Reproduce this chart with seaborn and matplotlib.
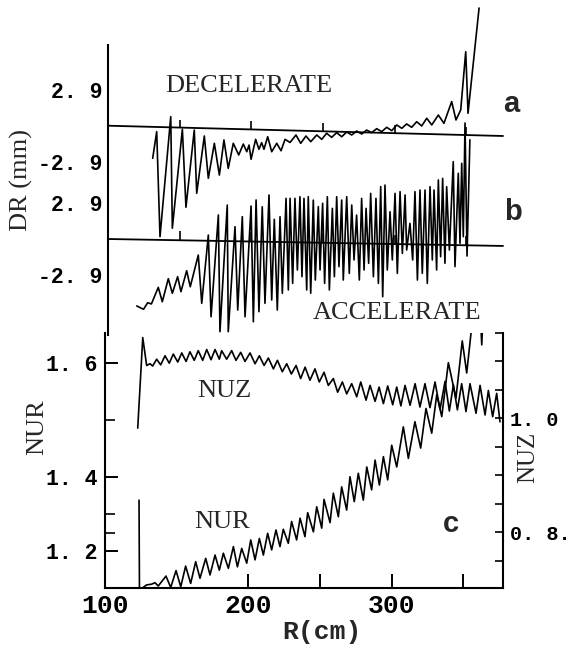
import numpy as np
import pandas as pd
import matplotlib
matplotlib.use("Agg")
import matplotlib.pyplot as plt
import seaborn as sns

# ---------------- data ----------------
# panel a : DECELERATE, DR (mm) vs R (cm)
DEC_R = [131.3, 134.1, 136.4, 143.9, 145.0, 152.0, 154.5, 160.3, 162.0, 167.3,
         170.1, 174.3, 177.8, 181.0, 184.0, 187.5, 191.3, 194.5, 196.9, 198.5,
         199.9, 203.1, 205.4, 207.3, 208.9, 211.5, 214.3, 217.8, 220.8, 223.6,
         227.1, 231.2, 234.5, 238.2, 241.5, 245.7, 249.2, 252.6, 256.1, 259.6,
         263.1, 266.6, 270.1, 273.6, 277.1, 280.5, 284.0, 287.5, 291.0, 294.5,
         298.0, 301.5, 305.0, 308.4, 311.9, 315.4, 318.9, 322.4, 325.9, 330.5,
         334.4, 339.8, 342.8, 346.1, 349.6, 351.2, 358.9]
DEC_DR = [-2.63, -0.48, -8.95, 0.73, -8.27, -0.29, -6.58, -0.35, -5.45, -0.83,
          -4.24, -1.42, -3.98, -1.15, -3.44, -1.42, -2.36, -1.48, -2.10, -1.56,
          -2.71, -1.10, -1.90, -1.37, -1.90, -0.89, -2.10, -1.42, -2.02, -1.10,
          -1.35, -0.75, -1.42, -0.83, -1.29, -0.75, -1.10, -0.61, -0.94, -0.56,
          -0.89, -0.51, -0.75, -0.43, -0.67, -0.35, -0.56, -0.24, -0.48, -0.13,
          -0.40, 0.06, -0.21, 0.14, -0.13, 0.32, -0.02, 0.60, 0.06, 0.86,
          0.19, 1.94, 0.46, 1.27, 5.97, 1.00, 9.49]

# panel b : ACCELERATE, DR (mm) vs R (cm)
ACC_R = [120.2, 124.9, 127.8, 130.4, 135.2, 138.0, 142.2, 145.0, 148.7, 151.0,
         155.0, 157.5, 163.1, 165.5, 170.1, 172.0, 177.1, 178.2, 183.3, 184.0,
         188.7, 190.6, 193.8, 195.7, 199.9, 201.5, 203.4, 205.4, 207.7, 209.6,
         212.4, 214.3, 216.1, 218.2, 220.1, 221.7, 224.3, 225.9,
         227.1, 228.9, 230.5, 232.2, 234.0, 235.4, 236.8, 238.7, 239.8, 241.5,
         243.3, 244.7, 246.8, 248.0, 249.8, 251.2, 253.1, 254.5, 256.6, 258.0,
         259.6, 261.2, 263.1, 264.2, 266.6, 268.4, 270.1, 271.7, 273.5, 275.4,
         277.0, 278.7, 280.1, 281.9, 283.3, 285.2, 287.0, 288.7, 290.3, 291.7,
         293.3, 294.9, 296.8, 298.4, 300.3, 301.9, 303.8, 305.4, 307.3, 308.4,
         310.7, 312.6, 314.2, 315.9, 317.7, 319.3, 321.2, 322.8, 324.7, 326.3,
         327.5, 329.3, 330.5, 332.1, 333.5, 335.1, 336.3, 338.2, 340.9, 342.1,
         344.4, 345.6, 346.8, 347.9, 349.1, 350.5, 352.5]
ACC_DR = [-5.40, -5.67, -5.14, -5.24, -3.90, -5.06, -3.20, -4.38, -3.04, -4.25,
          -2.56, -3.85, -1.29, -5.19, 0.32, -6.27, 1.94, -7.48, 2.74, -7.48,
          0.99, -5.73, 1.80, -6.27, 2.66, -6.67, 3.15, -5.86, 2.60, -5.19,
          3.55, -4.92, 1.59, -5.73, 1.80, -4.38, 3.28, -4.11,
          3.28, -3.58, 3.28, -2.50, 3.41, -3.04, 3.28, -4.11, 3.41, -4.38,
          3.14, -3.31, 2.61, -2.50, 2.88, -3.58, 3.41, -4.11, 2.47, -3.04,
          3.41, -2.23, 3.14, -3.31, 3.41, -2.77, 2.74, -1.69, 1.93, -3.31,
          3.28, -2.50, 2.47, -1.96, 3.68, -3.04, 3.28, -3.58, 4.22, -4.65,
          4.35, -2.50, 2.20, -1.69, 3.68, -2.77, 3.82, -1.16, 3.55, -0.89,
          1.26, -1.69, 3.82, -3.31, 3.95, -2.77, 3.95, -3.58, 4.22, -1.69,
          3.95, -2.50, 4.76, -1.43, 4.89, -1.96, 4.22, -0.89, 6.24, -2.23,
          5.30, -0.35, 6.10, 0.19, 9.35, -1.37, 8.00]

# zero reference lines of panels a and b
BASE_R = [100.0, 375.6]
BASE_A = [0.0, -0.83]
BASE_B = [0.0, -0.56]
MARK_R = [150, 200, 250, 300, 350]

# panel c : NUZ (right axis) and NUR (left axis) vs R (cm)
NUZ_R = [122.9, 126.4, 129.1, 131.5, 133.3,
         136.1, 138.9, 141.9, 144.9, 147.7, 150.8, 153.6, 156.6, 159.3, 162.3,
         165.1, 168.2, 171.0, 174.0, 176.8, 179.8,
         181.4, 184.9, 188.4, 191.4, 194.7, 197.7, 201.2, 204.7, 207.7, 211.0,
         214.0, 217.5, 220.3, 223.7, 226.8, 230.0, 233.3, 236.5, 239.6, 243.0,
         246.5, 249.5, 252.8, 255.8, 259.3, 262.3, 265.6, 268.6, 272.1, 275.6,
         278.4, 282.1, 284.9, 288.4, 291.2, 294.2, 297.2, 300.7, 303.5, 306.4,
         309.3, 312.8, 316.3, 319.7, 323.2, 326.7, 330.2, 333.7, 337.2, 340.2,
         343.0, 345.8, 348.8, 351.8, 354.6, 358.8, 361.6, 365.1, 367.4, 370.4,
         373.2, 375.5]
NUZ_V = [0.983, 1.142, 1.093, 1.096, 1.092,
         1.104, 1.094, 1.110, 1.097, 1.113, 1.099, 1.115, 1.100, 1.117, 1.102,
         1.119, 1.102, 1.121, 1.103, 1.121, 1.104,
         1.119, 1.104, 1.119, 1.102, 1.116, 1.100, 1.115, 1.096, 1.110, 1.093,
         1.106, 1.087, 1.102, 1.082, 1.096, 1.078, 1.093, 1.070, 1.090, 1.067,
         1.087, 1.064, 1.081, 1.058, 1.070, 1.046, 1.064, 1.043, 1.061, 1.038,
         1.064, 1.032, 1.058, 1.030, 1.055, 1.026, 1.057, 1.024, 1.055, 1.022,
         1.058, 1.023, 1.061, 1.020, 1.061, 1.019, 1.064, 1.016, 1.065, 1.013,
         1.059, 1.015, 1.061, 1.012, 1.061, 1.009, 1.058, 1.006, 1.049, 1.003,
         1.044, 0.994]

NUR_R = [123.8, 124.1, 129.1, 132.6, 134.9, 137.2, 142.6, 145.9, 149.6, 152.9,
         156.3, 159.8, 163.3, 166.3, 170.3, 173.3, 176.8, 179.8,
         182.6, 186.1, 189.6, 192.4, 195.4, 198.9, 201.7, 204.7, 207.7, 210.5,
         213.5, 216.3, 219.3, 222.1, 224.4, 227.9, 230.2, 233.7, 236.1, 239.5,
         241.4, 245.4, 247.7, 251.2, 252.8, 257.0, 259.3, 262.8, 265.1, 268.6,
         270.9, 273.9, 276.7, 280.2, 282.6, 286.0, 288.4, 291.4, 294.2, 297.2,
         300.0, 303.5, 308.1, 311.6, 316.2, 320.2, 323.9, 327.9, 331.4, 334.9,
         339.5, 344.8, 349.2, 352.3, 355.8, 361.5, 362.8, 363.9]
NUR_V = [1.338, 1.094, 1.108, 1.110, 1.114, 1.105, 1.132, 1.101, 1.147, 1.103,
         1.159, 1.112, 1.171, 1.126, 1.180, 1.135, 1.189, 1.148,
         1.194, 1.153, 1.212, 1.157, 1.207, 1.167, 1.230, 1.176, 1.234, 1.189,
         1.248, 1.203, 1.257, 1.212, 1.259, 1.221, 1.280, 1.230, 1.289, 1.239,
         1.304, 1.252, 1.320, 1.262, 1.340, 1.277, 1.357, 1.293, 1.374, 1.311,
         1.401, 1.334, 1.407, 1.338, 1.418, 1.366, 1.430, 1.379, 1.436, 1.393,
         1.456, 1.418, 1.488, 1.433, 1.497, 1.451, 1.520, 1.477, 1.544, 1.506,
         1.600, 1.538, 1.638, 1.582, 1.663, 1.700, 1.631, 1.700]

DR_TICKS = [2.9, -2.9]
DR_TICK_LABELS = ["2. 9", "-2. 9"]
NUR_TICKS = [1.2, 1.4, 1.6]
NUR_TICK_LABELS = ["1. 2", "1. 4", "1. 6"]
NUZ_TICKS = [0.75, 0.80, 0.85, 0.90, 0.95, 1.00, 1.05, 1.10, 1.15]
NUZ_TICK_LABELS = ["", "0. 8.", "", "", "", "1. 0", "", "", ""]
R_TICKS = [100, 200, 250, 300, 350]
R_TICK_LABELS = ["100", "200", "", "300", ""]

# ---------------- style / layout ----------------
sns.set_style("white")
plt.rcParams["font.family"] = ["Liberation Serif", "DejaVu Serif"]
plt.rcParams["axes.edgecolor"] = "black"

W, H = 572, 646
fig = plt.figure(figsize=(W / 100, H / 100), dpi=100)
fig.patch.set_facecolor("white")


def fx(px):
    return px / W


def fy(py):
    return 1 - py / H


MONO = dict(fontfamily="Liberation Mono", fontweight="bold")
LW = 1.2
OFFSET_B = 9.137   # vertical offset (mm) of trace b below trace a

# bottom panel geometry (pixels)
BL, BR, BT, BB = 104.9, 502.7, 333.0, 588.3
TL = 107.8
axc = fig.add_axes([fx(BL), fy(BB), (BR - BL) / W, (BB - BT) / H])
axz = axc.twinx()
axt = fig.add_axes([fx(TL), fy(335), (BR - BL) / W, 335 / H])
for a in (axc, axz, axt):
    a.set_facecolor("none")

# ---------------- top panel: a and b ----------------
dfa = pd.DataFrame({"R": DEC_R, "DR": DEC_DR})
dfb = pd.DataFrame({"R": ACC_R, "DR": np.array(ACC_DR) - OFFSET_B})
sns.lineplot(data=dfa, x="R", y="DR", ax=axt, color="black", lw=LW,
             sort=False, estimator=None)
sns.lineplot(data=dfb, x="R", y="DR", ax=axt, color="black", lw=LW,
             sort=False, estimator=None)
sns.lineplot(x=BASE_R, y=BASE_A, ax=axt, color="black", lw=1.3,
             sort=False, estimator=None)
sns.lineplot(x=BASE_R, y=np.array(BASE_B) - OFFSET_B, ax=axt, color="black",
             lw=1.3, sort=False, estimator=None)
ya = np.interp(MARK_R, BASE_R, BASE_A)
axt.vlines(MARK_R, ya, ya + 0.65, color="black", lw=1.2)
yb = np.interp(MARK_R, BASE_R, BASE_B) - OFFSET_B
axt.vlines(MARK_R, yb, yb + 0.75, color="black", lw=1.2)

axt.set_xlim(100, 377.4)
axt.set_ylim(-16.879, 10.137)
axt.set_xticks([])
axt.set_xlabel("")
axt.set_ylabel("")
ticks_t = DR_TICKS + [v - OFFSET_B for v in DR_TICKS]
axt.set_yticks(ticks_t, DR_TICK_LABELS + DR_TICK_LABELS, fontsize=15.5, **MONO)
axt.tick_params(axis="y", direction="in", length=7, width=1.4, pad=4,
                colors="black")
for s in ("top", "right", "bottom"):
    axt.spines[s].set_visible(False)
axt.spines["left"].set_linewidth(1.5)
axt.spines["left"].set_bounds(-16.879, 6.51)

# ---------------- bottom panel: c ----------------
dfr = pd.DataFrame({"R": NUR_R, "NUR": NUR_V})
dfz = pd.DataFrame({"R": NUZ_R, "NUZ": NUZ_V})
sns.lineplot(data=dfr, x="R", y="NUR", ax=axc, color="black", lw=LW,
             sort=False, estimator=None)
sns.lineplot(data=dfz, x="R", y="NUZ", ax=axz, color="black", lw=LW,
             sort=False, estimator=None)

# the printed NUR axis is not uniform: 1.2-1.4 spans less than 1.4-1.6
NUR_NODES = [1.0, 1.2, 1.4, 1.6, 1.8]
NUR_SPAN = [-73.7, 0.0, 73.7, 188.3, 302.9]


def nur_fwd(v):
    return np.interp(v, NUR_NODES, NUR_SPAN)


def nur_inv(d):
    return np.interp(d, NUR_SPAN, NUR_NODES)


axc.set_yscale("function", functions=(nur_fwd, nur_inv))
axc.set_xlim(100, 377.4)
axc.set_ylim(1.0988, 1.6518)
axc.set_yticks(NUR_TICKS, NUR_TICK_LABELS, fontsize=15.5, **MONO)
axc.set_yticks([1.25, 1.3, 1.5], minor=True)
axc.tick_params(axis="y", which="major", direction="in", length=9, width=1.4,
                pad=5, colors="black", left=True)
axc.tick_params(axis="y", which="minor", direction="in", length=7, width=1.2,
                left=True, colors="black")
axc.set_xticks(R_TICKS, R_TICK_LABELS, fontsize=19, **MONO)
axc.tick_params(axis="x", direction="in", length=10, width=1.4, pad=4,
                colors="black", bottom=True)
axc.set_xlabel("")
axc.set_ylabel("")
axc.spines["top"].set_visible(False)
axc.spines["right"].set_visible(False)
axc.spines["left"].set_linewidth(1.5)
axc.spines["bottom"].set_linewidth(1.5)

axz.set_ylim(0.7016, 1.1456)
axz.set_yticks(NUZ_TICKS, NUZ_TICK_LABELS, fontsize=14.5, **MONO)
axz.tick_params(axis="y", direction="in", length=6, width=1.2, pad=5,
                colors="black", right=True)
axz.set_ylabel("")
for s in ("top", "left", "bottom"):
    axz.spines[s].set_visible(False)
axz.spines["right"].set_linewidth(1.5)

# ---------------- texts ----------------
SERIF = dict(fontfamily="Liberation Serif")
fig.text(fx(165), fy(91.7), "DECELERATE", ha="left", va="baseline",
         fontsize=19, **SERIF)
fig.text(fx(313), fy(319), "ACCELERATE", ha="left", va="baseline",
         fontsize=19, **SERIF)
fig.text(fx(197), fy(396.7), "NUZ", ha="left", va="baseline", fontsize=19,
         **SERIF)
fig.text(fx(194), fy(528.3), "NUR", ha="left", va="baseline", fontsize=19,
         **SERIF)
BOLD = dict(fontfamily="Liberation Sans", fontweight="bold", fontsize=21)
fig.text(fx(503), fy(112), "a", ha="left", va="baseline", **BOLD)
fig.text(fx(504), fy(220), "b", ha="left", va="baseline", **BOLD)
fig.text(fx(443), fy(532), "c", ha="left", va="baseline", **BOLD)
fig.text(fx(21), fy(180), "DR (mm)", rotation=90, ha="center", va="center",
         fontsize=19, **SERIF)
fig.text(fx(37.5), fy(427), "NUR", rotation=90, ha="center", va="center",
         fontsize=19, **SERIF)
fig.text(fx(528), fy(457), "NUZ", rotation=90, ha="center", va="center",
         fontsize=18, **SERIF)
fig.text(fx(322), fy(632), "R(cm)", ha="center", va="center", fontsize=19,
         **MONO)

fig.savefig("out.png", dpi=100, facecolor="white")
